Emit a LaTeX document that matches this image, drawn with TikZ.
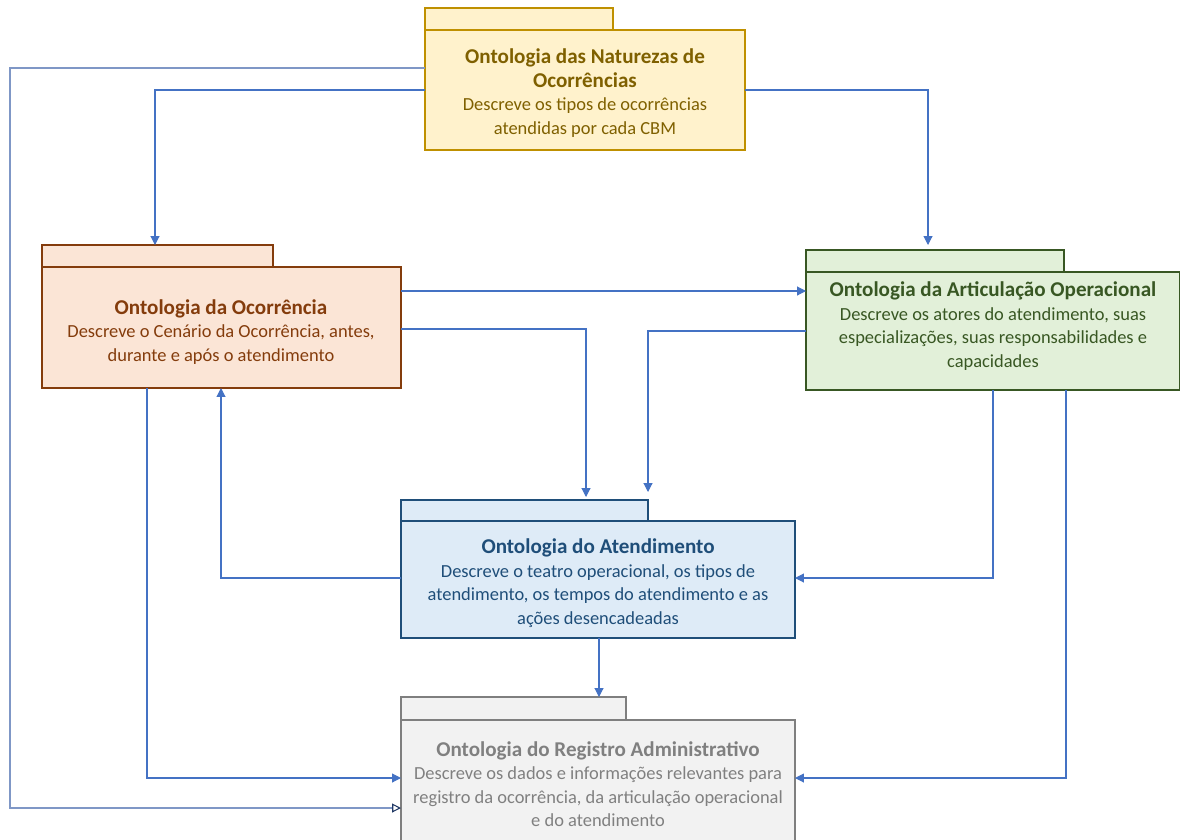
\documentclass[tikz,border=0pt]{standalone}
\usepackage{fontspec}
\setmainfont{Carlito}
\usetikzlibrary{arrows.meta,calc}
\definecolor{yfill}{HTML}{FFF2CC}\definecolor{ydraw}{HTML}{BF9000}\definecolor{ytext}{HTML}{7F6000}
\definecolor{ofill}{HTML}{FBE5D6}\definecolor{odraw}{HTML}{843C0C}\definecolor{otext}{HTML}{843C0C}
\definecolor{gfill}{HTML}{E2F0D9}\definecolor{gdraw}{HTML}{385723}\definecolor{gtext}{HTML}{385723}
\definecolor{bfill}{HTML}{DEEBF7}\definecolor{bdraw}{HTML}{1F4E79}\definecolor{btext}{HTML}{1F4E79}
\definecolor{rfill}{HTML}{F2F2F2}\definecolor{rdraw}{HTML}{7F7F7F}\definecolor{rtext}{HTML}{808080}
\definecolor{conn}{HTML}{4472C4}\definecolor{connlight}{HTML}{7F97C6}\definecolor{navy}{HTML}{203864}
\newcommand\pkgtitle{\bfseries\fontsize{12}{13.4}\selectfont}
\begin{document}
\begin{tikzpicture}[x=0.02cm,y=-0.02cm,
  pkg/.style={draw,line width=1.1pt,anchor=north west,inner sep=0pt,outer sep=0pt},
  lbl/.style={align=center,font=\fontsize{10.5}{13.4}\selectfont,inner sep=0pt},
  link/.style={draw=conn,line width=0.6pt,-{Triangle[length=5pt,width=5pt]}},
  outer/.style={draw=connlight,line width=0.6pt,-{Triangle[open,length=5pt,width=5pt,color=navy,fill=white]}}]
\clip (0,0) rectangle (1180,839);
\fill[white] (0,0) rectangle (1180,839);
% yellow
\node[pkg,draw=ydraw,fill=yfill,minimum width=188*0.02cm,minimum height=22*0.02cm] (yeltab) at (425,8) {};
\node[pkg,draw=ydraw,fill=yfill,minimum width=320*0.02cm,minimum height=120*0.02cm] (yel) at (425,30) {};
\node[lbl,text=ytext] (yeltxt) at (585,93) {{\pkgtitle Ontologia das Naturezas de}\\{\pkgtitle Ocorrências}\\Descreve os tipos de ocorrências\\atendidas por cada CBM};
% orange
\node[pkg,draw=odraw,fill=ofill,minimum width=231*0.02cm,minimum height=22*0.02cm] (oratab) at (42,245) {};
\node[pkg,draw=odraw,fill=ofill,minimum width=359*0.02cm,minimum height=121*0.02cm] (ora) at (42,267) {};
\node[lbl,text=otext] (oratxt) at (221,332) {{\pkgtitle Ontologia da Ocorrência}\\Descreve o Cenário da Ocorrência, antes,\\durante e após o atendimento};
% green
\node[pkg,draw=gdraw,fill=gfill,minimum width=258*0.02cm,minimum height=22*0.02cm] (grntab) at (806,250) {};
\node[pkg,draw=gdraw,fill=gfill,minimum width=374*0.02cm,minimum height=118*0.02cm] (grn) at (806,272) {};
\node[lbl,text=gtext] (grntxt) at (993,326) {{\pkgtitle Ontologia da Articulação Operacional}\\Descreve os atores do atendimento, suas\\especializações, suas responsabilidades e\\capacidades};
% blue
\node[pkg,draw=bdraw,fill=bfill,minimum width=247*0.02cm,minimum height=21*0.02cm] (blutab) at (401,500) {};
\node[pkg,draw=bdraw,fill=bfill,minimum width=394*0.02cm,minimum height=117*0.02cm] (blu) at (401,521) {};
\node[lbl,text=btext] (blutxt) at (598,583) {{\pkgtitle Ontologia do Atendimento}\\Descreve o teatro operacional, os tipos de\\atendimento, os tempos do atendimento e as\\ações desencadeadas};
% gray
\node[pkg,draw=rdraw,fill=rfill,minimum width=225*0.02cm,minimum height=23*0.02cm] (gratab) at (401,697) {};
\node[pkg,draw=rdraw,fill=rfill,minimum width=394*0.02cm,minimum height=140*0.02cm] (gra) at (401,720) {};
\node[lbl,text=rtext] (gratxt) at (598,784) {{\pkgtitle Ontologia do Registro Administrativo}\\Descreve os dados e informações relevantes para\\registro da ocorrência, da articulação operacional\\e do atendimento};
% connectors
\coordinate (farleft) at (10,808);
\draw[outer] ($(yel.north west)+(0,38)$) -| (farleft) -- ($(gra.north west)+(0,88)$);
\draw[link] ($(yel.north west)+(0,60)$) -| ($(oratab.north west)+(113,0)$);
\draw[link] ($(yel.north east)+(0,60)$) -| ($(grntab.north west)+(122,-5)$);
\draw[link] ($(ora.north east)+(0,24)$) -- ($(grn.north west)+(0,19)$);
\draw[link] ($(ora.north east)+(0,62)$) -| ($(blutab.north west)+(185,-3)$);
\draw[link] ($(grn.north west)+(0,59)$) -| ($(blutab.north east)+(0,-8)$);
\draw[link] ($(grn.south west)+(187,0)$) |- ($(blu.north east)+(0,57)$);
\draw[link] ($(grn.south west)+(260,0)$) |- ($(gra.north east)+(0,58)$);
\draw[link] ($(blu.north west)+(0,57)$) -| ($(ora.south west)+(179,0)$);
\draw[link] ($(ora.south west)+(105,0)$) |- ($(gra.north west)+(0,58)$);
\draw[link] ($(blu.south west)+(198,0)$) -- ($(gratab.north west)+(198,0)$);
\end{tikzpicture}
\end{document}
